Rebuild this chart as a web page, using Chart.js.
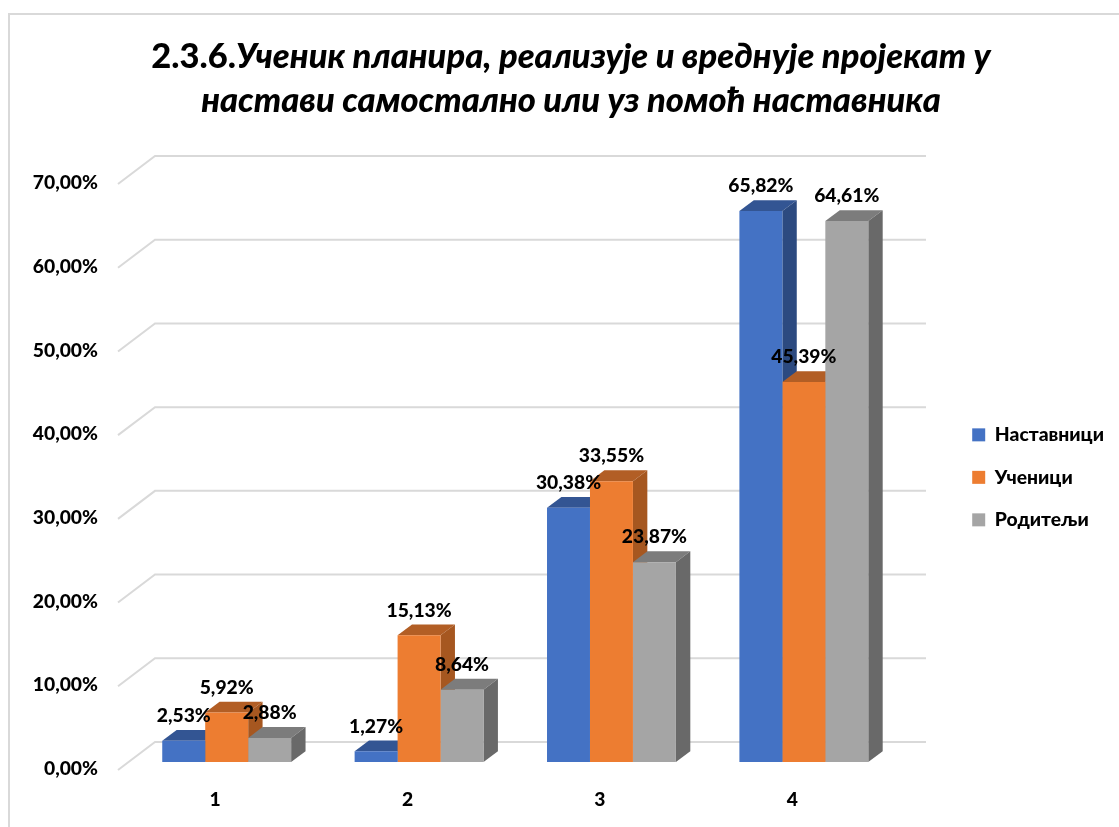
<!DOCTYPE html>
<html lang="sr">
<head>
<meta charset="utf-8">
<title>Ученик планира, реализује и вреднује пројекат</title>
<script src="https://cdn.jsdelivr.net/npm/chart.js@4"></script>
<style>
    body { margin: 0; background: #fff; }
    #wrap { position: relative; width: 1119px; height: 827px; overflow: hidden; }
    #frame { position: absolute; left: 8px; top: 13px; right: -4px; bottom: -4px; border: 2px solid #d9d9d9; }
    #title {
        position: absolute; left: 0; top: 33px; width: 1142px; text-align: center;
        font: italic 900 34.5px/44px Lato, sans-serif; color: #000; z-index: 2;
    }
    #title b { font-style: normal; font-weight: 900; }
    canvas { position: absolute; left: 0; top: 0; }
</style>
</head>
<body>
<div id="wrap">
    <div id="frame"></div>
    <canvas id="chart" width="1119" height="827"></canvas>
    <div id="title"><b>2.3.6.</b>Ученик планира, реализује и вреднује пројекат у<br>настави самостално или уз помоћ наставника</div>
</div>
<script>
const categories = ['1', '2', '3', '4'];
const seriesNames = ['Наставници', 'Ученици', 'Родитељи'];
const teachers = [2.53, 1.27, 30.38, 65.82];
const students = [5.92, 15.13, 33.55, 45.39];
const parents = [2.88, 8.64, 23.87, 64.61];

const fronts = ['#4472c4', '#ed7d31', '#a5a5a5'];
const tops = ['#335593', '#b25e25', '#7c7c7c'];
const sides = ['#2c4a80', '#a65720', '#696969'];

const percent = v => v.toFixed(2).replace('.', ',') + '%';

// Profundidad de las barras y de la pared del fondo
const barDepth = { x: 14.4, y: 10.8 };
const gridBack = { x: 155, y: -20, end: 926 };
const gridFront = { x: 118, y: 8 };

const labelFont = { family: 'Lato', size: 19.3, weight: '900' };

// Rejilla en perspectiva y caras superior y lateral de las barras.
// Las caras frontales no se pisan entre sí, las dibuja Chart.js después.
const depthFaces = {
    id: 'depthFaces',
    beforeDatasetsDraw(chart) {
        const ctx = chart.ctx;
        const yScale = chart.scales.y;
        ctx.save();
        ctx.strokeStyle = '#d9d9d9';
        ctx.lineWidth = 2;
        yScale.ticks.forEach(tick => {
            const y = yScale.getPixelForValue(tick.value);
            ctx.beginPath();
            ctx.moveTo(gridFront.x, y + gridFront.y);
            ctx.lineTo(gridBack.x, y + gridBack.y);
            ctx.lineTo(gridBack.end, y + gridBack.y);
            ctx.stroke();
        });
        chart.data.datasets.forEach((dataset, i) => {
            chart.getDatasetMeta(i).data.forEach(bar => {
                const left = bar.x - bar.width / 2;
                const right = bar.x + bar.width / 2;
                ctx.fillStyle = tops[i];
                ctx.beginPath();
                ctx.moveTo(left, bar.y);
                ctx.lineTo(left + barDepth.x, bar.y - barDepth.y);
                ctx.lineTo(right + barDepth.x, bar.y - barDepth.y);
                ctx.lineTo(right, bar.y);
                ctx.fill();
                ctx.fillStyle = sides[i];
                ctx.beginPath();
                ctx.moveTo(right, bar.y);
                ctx.lineTo(right + barDepth.x, bar.y - barDepth.y);
                ctx.lineTo(right + barDepth.x, bar.base - barDepth.y);
                ctx.lineTo(right, bar.base);
                ctx.fill();
            });
        });
        ctx.restore();
    }
};

const valueLabels = {
    id: 'valueLabels',
    afterDatasetsDraw(chart) {
        const ctx = chart.ctx;
        ctx.save();
        ctx.font = labelFont.weight + ' ' + labelFont.size + 'px ' + labelFont.family + ', sans-serif';
        ctx.fillStyle = '#000';
        ctx.textAlign = 'center';
        ctx.textBaseline = 'middle';
        chart.data.datasets.forEach((dataset, i) => {
            chart.getDatasetMeta(i).data.forEach((bar, j) => {
                ctx.fillText(percent(dataset.data[j]), bar.x, bar.y - 25);
            });
        });
        ctx.restore();
    }
};

// La leyenda queda a la derecha, lejos del área de barras
const moveLegend = {
    id: 'moveLegend',
    afterLayout(chart) {
        const legend = chart.legend;
        legend.left = 949;
        legend.right = 1119;
        legend.top = 402;
        legend.bottom = 560;
    }
};

const allValues = [teachers, students, parents];

new Chart(document.getElementById('chart'), {
    type: 'bar',
    data: {
        labels: categories,
        datasets: seriesNames.map((name, i) => ({
            label: name,
            data: allValues[i],
            backgroundColor: fronts[i],
            categoryPercentage: 0.67,
            barPercentage: 1
        }))
    },
    options: {
        responsive: false,
        animation: false,
        layout: { padding: { top: 176, left: 0, right: 54, bottom: 0 } },
        plugins: {
            title: { display: false },
            tooltip: { enabled: false },
            legend: {
                position: 'right',
                align: 'start',
                labels: {
                    boxWidth: 13,
                    boxHeight: 13,
                    padding: 23.2,
                    color: '#000',
                    font: labelFont
                }
            }
        },
        scales: {
            x: {
                afterFit: scale => { scale.height = 65; },
                grid: { display: false },
                border: { display: false },
                ticks: {
                    color: '#000',
                    padding: 18,
                    labelOffset: -11.5,
                    font: labelFont
                }
            },
            y: {
                min: 0,
                max: 70,
                afterFit: scale => { scale.width = 130.5; },
                grid: { display: false },
                border: { display: false },
                ticks: {
                    stepSize: 10,
                    color: '#000',
                    padding: 24.5,
                    labelOffset: 7,
                    callback: percent,
                    font: labelFont
                }
            }
        }
    },
    plugins: [depthFaces, valueLabels, moveLegend]
});
</script>
</body>
</html>
